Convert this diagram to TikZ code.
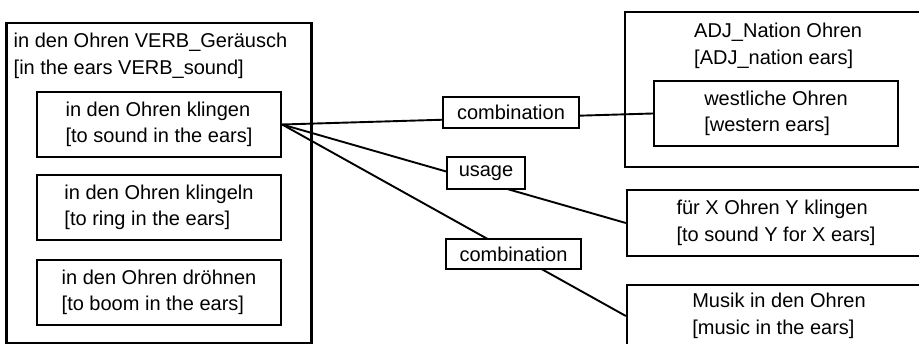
\documentclass[tikz,border=0pt]{standalone}
\usepackage{fontspec}
\setmainfont{Liberation Sans}
\tikzset{
  box/.style={draw, line width=2.3pt, rectangle, inner sep=0pt, align=left,
    font=\fontsize{20}{26.5}\selectfont},
  ttl/.style={anchor=north west, inner sep=0pt, align=left,
    font=\fontsize{20}{26.7}\selectfont},
  lbl/.style={draw, line width=1.6pt, fill=white, inner sep=0pt,
    font=\fontsize{20}{24}\selectfont},
  conn/.style={line width=1.9pt}
}
\begin{document}
\begin{tikzpicture}[x=1pt,y=-1pt]
\fill[white] (0,0) rectangle (919,344);
\clip (0,0) rectangle (919,344);
% left group
\node[box, minimum width=305pt, minimum height=320pt] (outer) at (159,183) {};
\node[ttl] (outerttl) at (13.5,33.3) {in den Ohren VERB\_Geräusch\\{}[in the ears VERB\_sound]};
\node[box, minimum width=244pt, minimum height=65pt] (k1) at (159,124.5) {in den Ohren klingen\\{}[to sound in the ears]};
\node[box, minimum width=244pt, minimum height=65pt] (k2) at (159,207.5) {in den Ohren klingeln\\{}[to ring in the ears]};
\node[box, minimum width=244pt, minimum height=65pt] (k3) at (159,292.5) {in den Ohren dröhnen\\{}[to boom in the ears]};
% right group
\node[box, minimum width=310pt, minimum height=155pt] (adj) at (780,89.5) {};
\node[ttl] (adjttl) at (694,23.3) {ADJ\_Nation Ohren\\{}[ADJ\_nation ears]};
\node[box, minimum width=244pt, minimum height=65pt] (west) at (776,113.5) {westliche Ohren\\{}[western ears]};
\node[box, minimum width=298pt, minimum height=66pt] (fur) at (776,223) {für X Ohren Y klingen\\{}[to sound Y for X ears]};
\node[box, minimum width=304pt, minimum height=62pt] (musik) at (779,316) {Musik in den Ohren\\{}[music in the ears]};
% connectors
\draw[conn] (k1.east) -- (west.west);
\draw[conn] (k1.east) -- (fur.west);
\draw[conn] (k1.east) -- (musik.west);
% labels
\node[lbl, minimum width=136pt, minimum height=31pt] (c1) at (511,112.5) {combination};
\node[lbl, minimum width=78pt, minimum height=32pt] (u) at (486,173) {usage};
\node[lbl, minimum width=135pt, minimum height=30pt] (c2) at (513.5,254) {combination};
\end{tikzpicture}
\end{document}
